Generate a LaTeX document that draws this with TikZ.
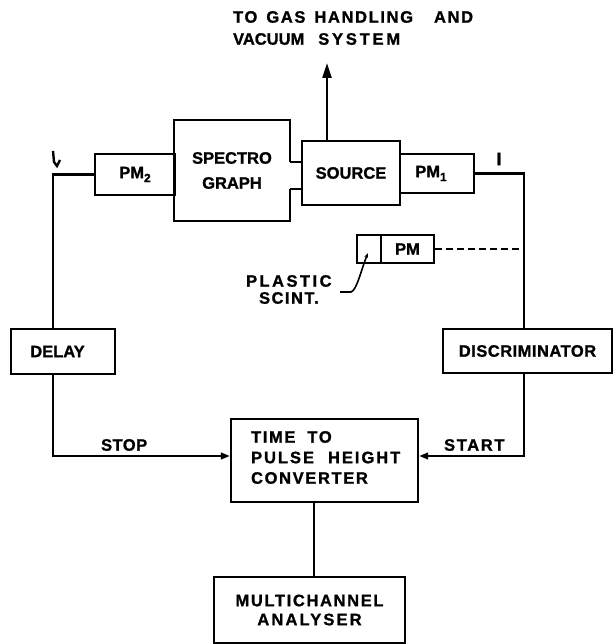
\documentclass[tikz,border=0pt]{standalone}
\usepackage{fontspec}
\setmainfont{Liberation Sans}[BoldFeatures={FakeBold=1.2}]
\usetikzlibrary{arrows.meta}
\newcommand\ls[1]{\addfontfeature{LetterSpace=#1}}
\newcommand\lbf{\fontsize{16.5}{20}\selectfont\bfseries}
\newcommand\subs[1]{\raisebox{-4pt}{\fontsize{12}{12}\selectfont #1}}
\begin{document}
\begin{tikzpicture}[x=1pt,y=-1pt,line width=2.2pt,
  blk/.style={draw,inner sep=0pt,font=\lbf},
  lbl/.style={inner sep=0pt,font=\lbf},
  tip/.style={-{Triangle[length=9pt,width=6.5pt]}},
  bigtip/.style={-{Triangle[length=15pt,width=9pt]}},
  dash line/.style={dash pattern=on 7pt off 4pt},
  leader/.style={line width=1.6pt,-{Stealth[length=5pt,width=4pt]}}]
\useasboundingbox (0,0) rectangle (615,644);
% coordinates
\coordinate (lx) at (53,0);
\coordinate (rx) at (524,0);
\coordinate (wy) at (0,456);
\coordinate (my) at (314,0);
\coordinate (tt) at (0,162);
\coordinate (tb) at (0,189);
\coordinate (gas) at (327,63);
% nodes
\node[blk,minimum width=80pt,minimum height=41pt] (pm2) at (135,174.5) {PM\subs{2}};
\node[lbl,minimum width=114pt,minimum height=99pt,align=center] (spec) at (232,170.5) {SPECTRO\\[5pt]GRAPH};
\node[blk,minimum width=98pt,minimum height=64pt] (src) at (351,173) {SOURCE};
\node[blk,minimum width=74pt,minimum height=39pt] (pm1) at (437,173.5) {PM\subs{1}\hspace*{12pt}};
\node[blk,minimum width=24pt,minimum height=28pt] (scint) at (369,249) {};
\node[blk,minimum width=53pt,minimum height=28pt] (pmp) at (407.5,249) {PM};
\node[blk,minimum width=104pt,minimum height=45pt] (dly) at (63,351.5) {DELAY\hspace*{11pt}};
\node[blk,minimum width=169pt,minimum height=44pt] (disc) at (527.5,351) {\ls{3}DISCRIMINATOR};
\node[blk,minimum width=187pt,minimum height=83pt] (tp) at (324.5,460.5) {};
\node[lbl,anchor=west,align=left] (tptxt) at (250,457.5) {{\ls{10}TIME\hspace{12pt}TO}\\[0.5pt]{\ls{12}PULSE\hspace{14pt}HEIGHT}\\[0.5pt]{\ls{10}CONVERTER}};
\node[blk,minimum width=191pt,minimum height=66pt,align=center] (mca) at (309.5,610) {{\ls{10}MULTICHANNEL}\\[-1pt]{\ls{13}ANALYSER}};
% text labels
\node[lbl,anchor=west] (t1) at (232,17) {\ls{10}TO\hspace{9pt}GAS\hspace{9pt}HANDLING\hspace{21pt}AND};
\node[lbl,anchor=west] (t2) at (232,39) {VACUUM\hspace{14pt}{\ls{17}SYSTEM}};
\node[lbl,anchor=west] (plastic) at (245,281) {\ls{15}PLASTIC};
\node[lbl,anchor=west] (scinttxt) at (258,298) {\ls{9}SCINT.};
\node[lbl,anchor=west] (stop) at (100,445) {\ls{3}STOP};
\node[lbl,anchor=west] (start) at (443,445) {\ls{10}START};
\node[inner sep=0pt,font=\fontsize{18}{18}\selectfont\bfseries] (one) at (499,159) {I};
% spectrograph outline with neck to source
\draw (spec.east |- tt) -- (spec.north east) -- (spec.north west) -- (spec.south west) -- (spec.south east) -- (spec.east |- tb);
\draw (spec.east |- tt) -- (src.west |- tt);
\draw (spec.east |- tb) -- (src.west |- tb);
% gas arrow
\draw[bigtip] (src.north -| gas) -- (gas);
% left chain
\draw (pm2.west) -- (pm2.west -| lx) -- (dly.north -| lx);
\draw[tip] (dly.south -| lx) -- (lx |- wy) -- (tp.west |- wy);
% right chain
\draw (pm1.east) -- (pm1.east -| rx) -- (disc.north -| rx);
\draw[tip] (disc.south -| rx) -- (rx |- wy) -- (tp.east |- wy);
\draw[dash line] (pmp.east) -- (pmp.east -| rx);
% to analyser
\draw (tp.south -| my) -- (mca.north -| my);
% leader for plastic scintillator
\coordinate (ld0) at (340,292);
\coordinate (ld1) at (351,292);
\coordinate (ld2) at (368,253);
\draw[leader] (ld0) -- (ld1) .. controls (357,290) and (361,270) .. (ld2);
% mark near left lead
\draw[line width=2.4pt] (53,151) -- (54,162) -- (57,166) -- (60,160);
\end{tikzpicture}
\end{document}
